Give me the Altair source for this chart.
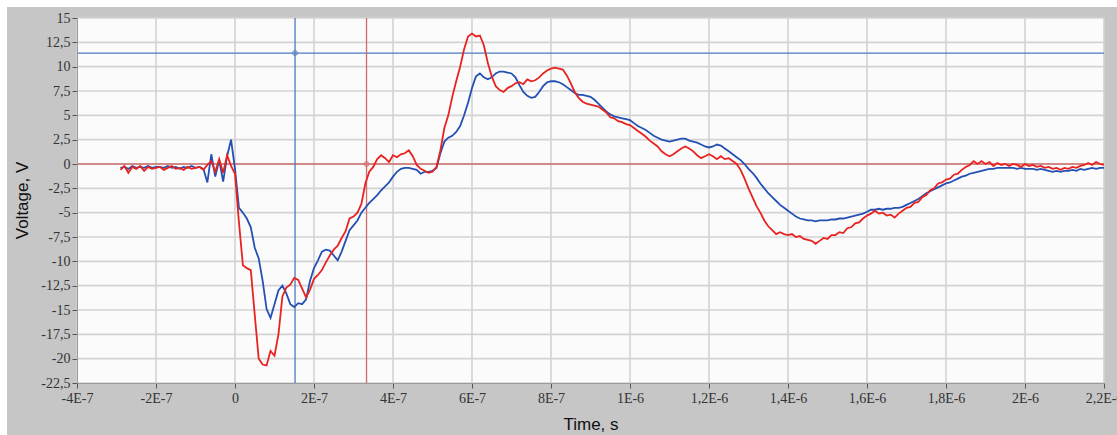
import altair as alt
import pandas as pd

# Sampling grid of the two recorded channels (ns)
T_START_NS = -290
STEP_NS = 10

red_v = [
    -0.6, -0.2, -0.9, -0.3, -0.5, -0.2, -0.7, -0.3, -0.5, -0.4,
    -0.3, -0.6, -0.4, -0.2, -0.5, -0.4, -0.6, -0.3, -0.5, -0.4,
    -0.3, -0.6, -0.1, 0.3, -0.8, 0.5, -0.9, 0.9, -0.2, -1.0,
    -6.0, -10.4, -10.7, -10.9, -15.5, -20.0, -20.6, -20.7, -19.2, -19.7,
    -17.5, -13.6, -12.7, -12.4, -11.7, -11.9, -12.8, -13.7, -12.9, -11.8,
    -11.4, -10.9, -10.1, -9.4, -8.8, -8.4, -7.6, -6.9, -5.6, -5.4,
    -5.0, -4.1, -2.0, -0.8, -0.3, 0.5, 0.9, 0.6, 0.2, 0.9,
    0.7, 1.0, 1.1, 1.4, 0.8, -0.1, -0.5, -0.7, -0.9, -0.8,
    -0.3, 1.4, 3.7, 5.0, 6.9, 8.5, 10.0, 11.8, 13.1, 13.4,
    13.1, 13.2, 12.2, 10.4, 9.0, 8.0, 7.6, 7.4, 7.8, 8.0,
    8.3, 8.4, 8.2, 8.7, 8.5, 8.6, 8.9, 9.3, 9.6, 9.8,
    9.9, 9.8, 9.7, 9.1, 8.3, 7.4, 6.8, 6.4, 6.2, 6.1,
    6.0, 5.9, 5.6, 5.3, 4.8, 4.7, 4.4, 4.3, 4.1, 4.0,
    3.7, 3.4, 3.1, 2.8, 2.4, 2.1, 1.8, 1.3, 1.0, 0.8,
    1.0, 1.3, 1.6, 1.8, 1.6, 1.3, 0.9, 0.6, 0.8, 1.0,
    0.8, 0.5, 0.8, 0.5, 0.6, 0.3, 0.0, -0.6, -1.5, -2.5,
    -3.4, -4.3, -5.0, -5.8, -6.4, -6.8, -7.2, -7.0, -7.2, -7.3,
    -7.2, -7.5, -7.4, -7.7, -7.8, -7.9, -8.2, -7.9, -7.6, -7.7,
    -7.3, -7.3, -7.0, -7.1, -6.6, -6.5, -6.1, -6.0, -5.6, -5.3,
    -5.1, -4.8, -5.1, -5.0, -5.3, -5.2, -5.5, -5.1, -4.8, -4.5,
    -4.4, -4.0, -3.9, -3.4, -3.2, -2.7, -2.5, -2.0, -1.9, -1.6,
    -1.5, -1.1, -1.0, -0.6, -0.3, -0.1, 0.3, 0.0, 0.3, 0.0,
    0.2, -0.2, 0.1, -0.1, 0.0, -0.2, 0.0, -0.1, -0.3, 0.0,
    -0.2, -0.1, -0.3, -0.2, -0.4, -0.3, -0.5, -0.4, -0.6, -0.4,
    -0.5, -0.3, -0.4, -0.2, -0.1, 0.1, -0.1, 0.2, 0.0, -0.1,
]

blue_v = [
    -0.4, -0.3, -0.5, -0.2, -0.4, -0.3, -0.4, -0.2, -0.4, -0.3,
    -0.3, -0.4, -0.2, -0.4, -0.3, -0.5, -0.3, -0.4, -0.2, -0.4,
    -0.3, -0.5, -1.9, 1.0, -1.3, 0.4, -1.8, 0.8, 2.5, -0.5,
    -4.5, -5.0, -5.6, -6.5, -8.6, -9.7, -12.0, -14.9, -15.8, -14.4,
    -13.0, -12.5, -13.3, -14.4, -14.7, -14.3, -14.4, -13.9, -12.0, -10.7,
    -9.9, -9.0, -8.8, -8.9, -9.4, -9.9, -9.0, -7.9, -6.8, -6.3,
    -5.8, -5.0, -4.5, -4.0, -3.6, -3.2, -2.7, -2.3, -1.9, -1.3,
    -0.8, -0.5, -0.4, -0.4, -0.5, -0.6, -1.0, -0.8, -0.8, -0.7,
    -0.4, 1.1, 2.3, 2.7, 2.9, 3.3, 3.9, 5.0, 6.3, 7.8,
    9.0, 9.3, 8.9, 8.7, 8.9, 9.3, 9.5, 9.5, 9.4, 9.3,
    8.9, 8.1, 7.4, 7.0, 6.8, 6.9, 7.4, 8.0, 8.4, 8.5,
    8.5, 8.4, 8.2, 7.9, 7.6, 7.3, 7.1, 7.1, 7.0, 6.9,
    6.6, 6.2, 5.8, 5.4, 5.1, 4.9, 4.8, 4.7, 4.6, 4.5,
    4.2, 3.9, 3.7, 3.5, 3.2, 2.9, 2.7, 2.5, 2.4, 2.3,
    2.4, 2.5, 2.6, 2.6, 2.4, 2.3, 2.2, 2.0, 1.8, 1.7,
    1.8, 2.0, 1.9, 1.6, 1.3, 1.0, 0.7, 0.4, 0.0, -0.5,
    -0.9, -1.4, -2.0, -2.5, -3.0, -3.4, -3.8, -4.2, -4.5, -4.8,
    -5.1, -5.4, -5.6, -5.7, -5.8, -5.8, -5.9, -5.8, -5.8, -5.8,
    -5.7, -5.7, -5.6, -5.6, -5.5, -5.4, -5.3, -5.2, -5.1, -4.9,
    -4.7, -4.7, -4.6, -4.7, -4.6, -4.6, -4.5, -4.5, -4.4, -4.2,
    -4.0, -3.8, -3.6, -3.3, -3.0, -2.8, -2.6, -2.4, -2.2, -2.0,
    -1.9, -1.7, -1.5, -1.3, -1.2, -1.0, -0.9, -0.8, -0.7, -0.6,
    -0.5, -0.5, -0.4, -0.4, -0.4, -0.4, -0.4, -0.5, -0.4, -0.5,
    -0.5, -0.5, -0.6, -0.5, -0.6, -0.7, -0.8, -0.7, -0.8, -0.7,
    -0.7, -0.6, -0.7, -0.5, -0.6, -0.5, -0.4, -0.5, -0.4, -0.4,
]

# Axis ticks and their labels (decimal comma)
x_ticks_1e8 = [-40, -20, 0, 20, 40, 60, 80, 100, 120, 140, 160, 180, 200, 220]
x_labels = ["-4E-7", "-2E-7", "0", "2E-7", "4E-7", "6E-7", "8E-7", "1E-6",
            "1,2E-6", "1,4E-6", "1,6E-6", "1,8E-6", "2E-6", "2,2E-6"]
y_ticks = [-22.5, -20, -17.5, -15, -12.5, -10, -7.5, -5, -2.5, 0,
           2.5, 5, 7.5, 10, 12.5, 15]
y_labels = ["-22,5", "-20", "-17,5", "-15", "-12,5", "-10", "-7,5", "-5", "-2,5", "0",
            "2,5", "5", "7,5", "10", "12,5", "15"]

# Cursors: (time, voltage, colour)
cursor_t = [1.52e-7, 3.33e-7]
cursor_v = [11.4, 0.0]
cursor_color = ["#4a7bbf", "#cf6b6b"]

RED = "#e8231f"
BLUE = "#2450b4"
GRID = "#d3d3d3"

times = [(T_START_NS + i * STEP_NS) * 1e-9 for i in range(len(red_v))]
x_tick_vals = [v * 1e-8 for v in x_ticks_1e8]
red_df = pd.DataFrame({"t": times, "v": red_v})
blue_df = pd.DataFrame({"t": times, "v": blue_v})
cur_df = pd.DataFrame({"t": cursor_t, "v": cursor_v, "c": cursor_color})
xgrid_df = pd.DataFrame({"t": x_tick_vals})
ygrid_df = pd.DataFrame({"v": y_ticks})

x_expr = "[{}][indexof([{}], round(datum.value * 1e8))]".format(
    ",".join("'%s'" % s for s in x_labels), ",".join(str(v) for v in x_ticks_1e8))
y_expr = "[{}][indexof([{}], round(datum.value * 2))]".format(
    ",".join("'%s'" % s for s in y_labels), ",".join(str(int(v * 2)) for v in y_ticks))

x_scale = alt.Scale(domain=[-4e-7, 2.2e-6], nice=False, zero=False)
y_scale = alt.Scale(domain=[-22.5, 15], nice=False, zero=False)

x_axis = alt.Axis(
    values=x_tick_vals, labelExpr=x_expr, title="Time, s",
    titleY=41, titleBaseline="middle", grid=False, zindex=1,
    labelOverlap=False, labelFlush=False, labelBound=False,
)
y_axis = alt.Axis(
    values=y_ticks, labelExpr=y_expr, title="Voltage, V",
    titleX=-55, titleY=182, titleAngle=-90, titleAlign="center",
    titleBaseline="middle", grid=False, zindex=1,
    labelOverlap=False, labelFlush=False, labelBound=False,
)

W, H = 1027, 365

# grey instrument panel behind the plot
panel = alt.Chart(pd.DataFrame({"a": [0]})).mark_rect(color="#c6c6c6").encode(
    x=alt.value(-70), x2=alt.value(1045), y=alt.value(-11), y2=alt.value(420)
)
plot_bg = alt.Chart(pd.DataFrame({"a": [0]})).mark_rect(color="#fbfbfb").encode(
    x=alt.value(0), x2=alt.value(W), y=alt.value(0), y2=alt.value(H)
)

# grid drawn as rules so it stays underneath the traces
x_grid = alt.Chart(xgrid_df).mark_rule(color=GRID, strokeWidth=1.6).encode(
    x=alt.X("t:Q", scale=x_scale, axis=x_axis)
)
y_grid = alt.Chart(ygrid_df).mark_rule(color=GRID, strokeWidth=1.6).encode(
    y=alt.Y("v:Q", scale=y_scale, axis=y_axis)
)

blue_line = alt.Chart(blue_df).mark_line(color=BLUE, strokeWidth=1.8).encode(
    x=alt.X("t:Q", axis=x_axis), y=alt.Y("v:Q", axis=y_axis)
)
red_line = alt.Chart(red_df).mark_line(color=RED, strokeWidth=1.8).encode(
    x=alt.X("t:Q", axis=x_axis), y=alt.Y("v:Q", axis=y_axis)
)

h_cursor = alt.Chart(cur_df).mark_rule(strokeWidth=1.3).encode(
    y=alt.Y("v:Q", axis=y_axis), color=alt.Color("c:N", scale=None)
)
v_cursor = alt.Chart(cur_df).mark_rule(strokeWidth=1.3).encode(
    x=alt.X("t:Q", axis=x_axis), color=alt.Color("c:N", scale=None)
)
markers = alt.Chart(cur_df).mark_point(
    shape="circle", size=22, filled=False, strokeWidth=1.2
).encode(
    x=alt.X("t:Q", axis=x_axis), y=alt.Y("v:Q", axis=y_axis),
    color=alt.Color("c:N", scale=None),
)

chart = alt.layer(
    panel, plot_bg, x_grid, y_grid, h_cursor, v_cursor, blue_line, red_line, markers
).properties(
    width=W, height=H,
    autosize=alt.AutoSizeParams(type="none"),
    padding={"left": 77, "top": 18, "right": 13, "bottom": 52},
    background="white",
).configure_view(
    stroke="#b4b4b4", strokeWidth=1
).configure_axis(
    domainColor="#9a9a9a", domainWidth=1,
    tickColor="#555555", tickSize=5, tickWidth=1,
    labelFont="Liberation Sans Narrow", labelFontSize=14, labelColor="#333333",
    labelPadding=2, labelOverlap=False,
    titleFont="Liberation Sans", titleFontSize=17, titleFontWeight="normal",
    titleColor="#111111",
).configure_axisX(
    labelPadding=3
)

chart.save("out.html", embed_options={"renderer": "svg", "actions": False})
